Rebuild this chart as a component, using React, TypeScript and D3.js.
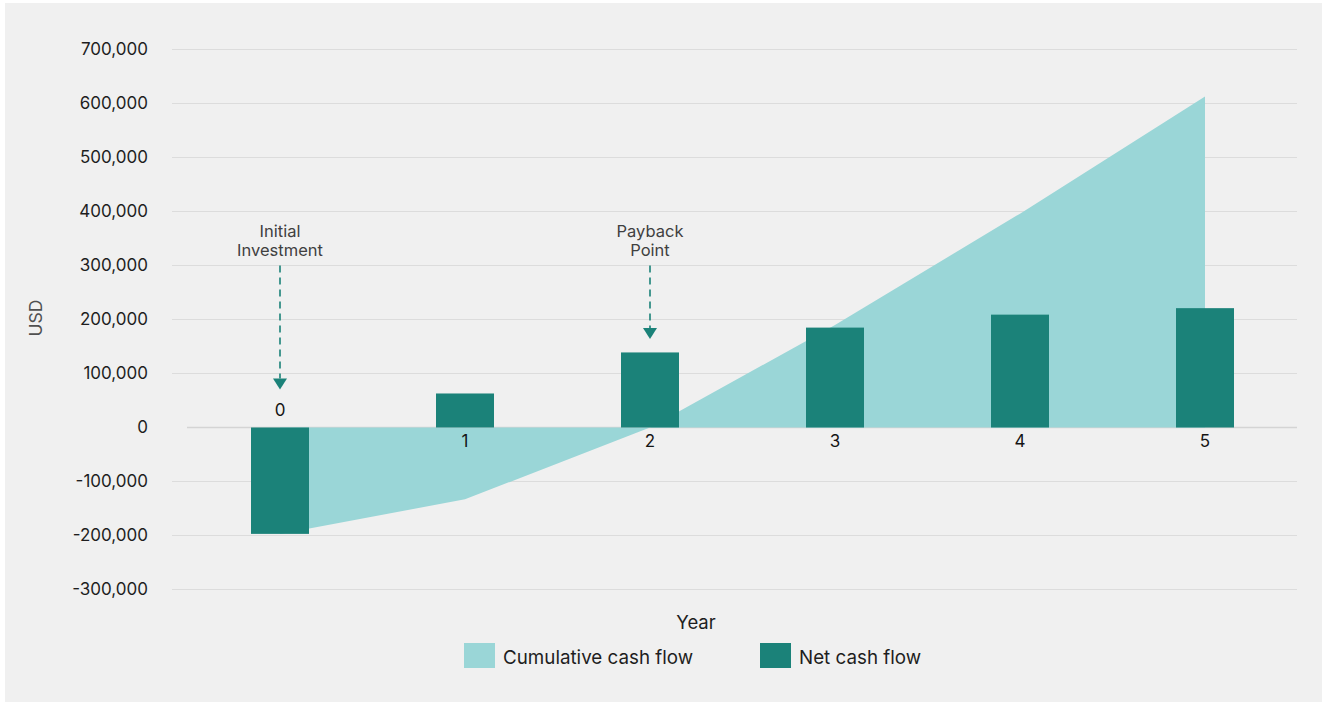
import React from "react";
import * as d3 from "d3";

// Cash flow data (USD)
const years = [0, 1, 2, 3, 4, 5];
const netCashFlow = [-197000, 63000, 139000, 185000, 209000, 221000];
const cumulativeCashFlow = [-197000, -133000, 0, 190000, 396000, 613000];
const yTicks = [-300000, -200000, -100000, 0, 100000, 200000, 300000, 400000, 500000, 600000, 700000];

// Callouts pointing at specific years
const annotationYears = [0, 2];
const annotationLines = [
  ["Initial", "Investment"],
  ["Payback", "Point"],
];

const legendLabels = ["Cumulative cash flow", "Net cash flow"];

const W = 1322;
const H = 702;
const FONT = "Inter, 'Noto Sans', sans-serif";
const AREA_COLOR = "#9ad6d7";
const BAR_COLOR = "#1b8279";
const GRID_COLOR = "#dcdcdc";

export default function App() {
  const x = d3.scalePoint<number>().domain(years).range([280, 1205]);
  const y = d3.scaleLinear().domain([-300000, 700000]).range([589.5, 49.5]);
  const gridX0 = 172;
  const gridX1 = 1297;
  const barW = 58;

  const cumPoints = years.map((yr, i) => ({ yr, v: cumulativeCashFlow[i] }));
  const areaPath =
    d3
      .area<{ yr: number; v: number }>()
      .x((d) => x(d.yr) as number)
      .y0(y(0))
      .y1((d) => y(d.v))
      .curve(d3.curveLinear)(cumPoints) || "";

  const fmt = d3.format(",");
  const tickLabel = (v: number) => (v < 0 ? "-" + fmt(-v) : fmt(v));

  const labelBaselineAbove = y(0) - 11.5;
  const labelBaselineBelow = y(0) + 19.5;

  return (
    <div style={{ position: "fixed", left: 0, top: 0, width: W, height: H }}>
      <svg width={W} height={H} style={{ display: "block" }} fontFamily={FONT}>
        <rect x={0} y={0} width={W} height={H} fill="#ffffff" />
        <rect x={5} y={3} width={W - 5} height={H - 3} fill="#f0f0f0" />

        {/* grid */}
        {yTicks.map((t) => (
          <line
            key={"g" + t}
            x1={t === 0 ? 187 : gridX0}
            x2={gridX1}
            y1={y(t)}
            y2={y(t)}
            stroke={t === 0 ? "#d4d4d4" : GRID_COLOR}
            strokeWidth={t === 0 ? 1.5 : 1.2}
          />
        ))}

        {/* y tick labels */}
        {yTicks.map((t) => (
          <text
            key={"t" + t}
            x={148}
            y={y(t)}
            dy="0.35em"
            textAnchor="end"
            fontSize={17}
            fill="#1e1e1e"
          >
            {tickLabel(t)}
          </text>
        ))}

        {/* cumulative area */}
        <path d={areaPath} fill={AREA_COLOR} />

        {/* net cash flow bars */}
        {years.map((yr, i) => {
          const v = netCashFlow[i];
          const top = y(Math.max(0, v));
          const bottom = y(Math.min(0, v));
          return (
            <rect
              key={"b" + yr}
              x={(x(yr) as number) - barW / 2}
              y={top}
              width={barW}
              height={bottom - top}
              fill={BAR_COLOR}
            />
          );
        })}

        {/* category labels */}
        {years.map((yr, i) => (
          <text
            key={"c" + yr}
            x={x(yr) as number}
            y={netCashFlow[i] < 0 ? labelBaselineAbove : labelBaselineBelow}
            textAnchor="middle"
            fontSize={17}
            fill="#151515"
          >
            {yr}
          </text>
        ))}

        {/* callouts */}
        {annotationYears.map((yr, k) => {
          const i = years.indexOf(yr);
          const cx = x(yr) as number;
          const v = netCashFlow[i];
          const obstacleTop = v < 0 ? labelBaselineAbove - 13 : y(v);
          const tipY = obstacleTop - 13.5;
          const arrowH = 11;
          const arrowHalf = 7;
          return (
            <g key={"a" + yr}>
              {annotationLines[k].map((ln, j) => (
                <text
                  key={j}
                  x={cx}
                  y={236.5 + j * 19.5}
                  textAnchor="middle"
                  fontSize={16.5}
                  fill="#404040"
                >
                  {ln}
                </text>
              ))}
              <line
                x1={cx}
                x2={cx}
                y1={265.5}
                y2={tipY - arrowH}
                stroke={BAR_COLOR}
                strokeWidth={1.6}
                strokeDasharray="7,5"
              />
              <path
                d={`M${cx - arrowHalf},${tipY - arrowH}L${cx + arrowHalf},${tipY - arrowH}L${cx},${tipY}Z`}
                fill={BAR_COLOR}
              />
            </g>
          );
        })}

        {/* axis titles */}
        <text
          transform={`translate(42,318) rotate(-90)`}
          textAnchor="middle"
          fontSize={17.5}
          fill="#505050"
        >
          USD
        </text>
        <text x={696} y={629} textAnchor="middle" fontSize={18.5} fill="#1e1e1e">
          Year
        </text>

        {/* legend */}
        {legendLabels.map((lbl, i) => {
          const lx = i === 0 ? 464 : 760;
          return (
            <g key={"l" + i}>
              <rect x={lx} y={643} width={31} height={25} fill={i === 0 ? AREA_COLOR : BAR_COLOR} />
              <text x={lx + 39} y={664} fontSize={18.8} fill="#1e1e1e">
                {lbl}
              </text>
            </g>
          );
        })}
      </svg>
    </div>
  );
}
